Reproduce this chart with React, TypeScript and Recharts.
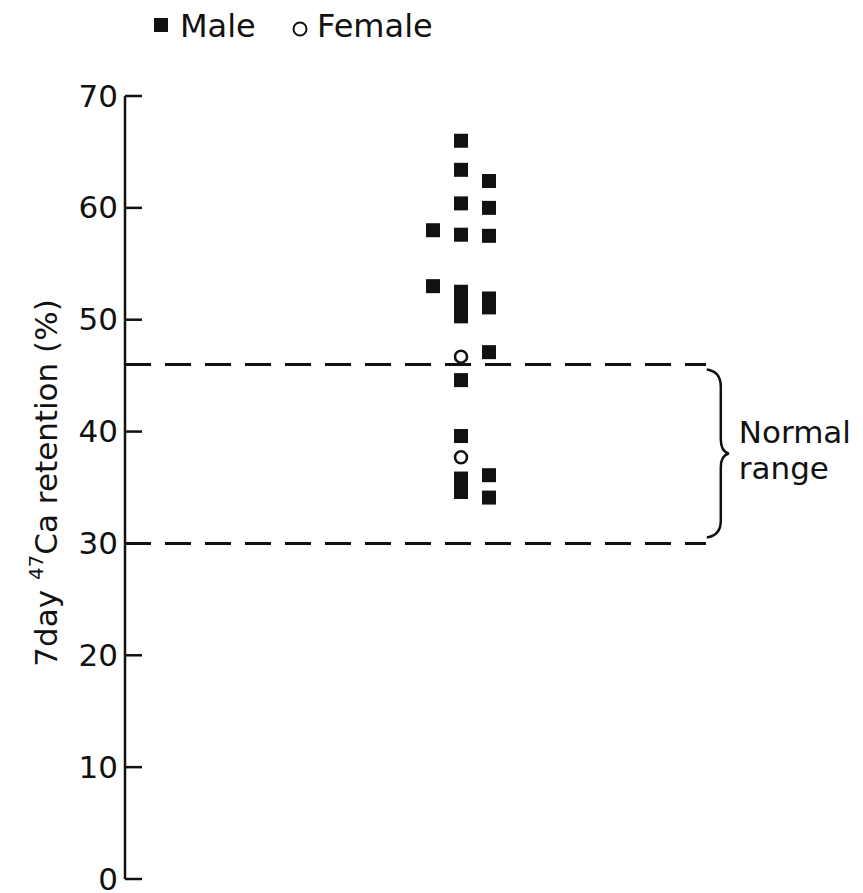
import React from 'react';
import { ScatterChart, Scatter, XAxis, YAxis, ReferenceLine, ReferenceArea, Legend } from 'recharts';

// Column positions (arbitrary horizontal slots for the three dot columns)
const columnPositions = [11, 12, 13];

// Male values (%), by column
const maleLeft = [58.0, 53.0];
const maleMiddle = [66.0, 63.4, 60.4, 57.6, 52.5, 51.8, 51.0, 50.3, 44.6, 39.6, 35.8, 35.2, 34.6];
const maleRight = [62.4, 60.0, 57.5, 51.9, 51.1, 47.1, 36.1, 34.1];

// Female values (%), middle column
const femaleMiddle = [46.7, 37.7];

const yTicks = [0, 10, 20, 30, 40, 50, 60, 70];
const normalRange = [30, 46];
const legendLabels = ['Male', 'Female'];
const rangeLabel = ['Normal', 'range'];

const maleData = [
  ...maleLeft.map((v) => ({ x: columnPositions[0], y: v })),
  ...maleMiddle.map((v) => ({ x: columnPositions[1], y: v })),
  ...maleRight.map((v) => ({ x: columnPositions[2], y: v })),
];
const femaleData = femaleMiddle.map((v) => ({ x: columnPositions[1], y: v }));

const FONT = '"DejaVu Sans", sans-serif';
const INK = '#111';

const SquareShape = (props: any) => {
  const { cx, cy } = props;
  return <rect x={cx - 7} y={cy - 7} width={14} height={14} fill={INK} />;
};

const CircleShape = (props: any) => {
  const { cx, cy } = props;
  return <circle cx={cx} cy={cy} r={6} fill="#fff" stroke={INK} strokeWidth={2.5} />;
};

const YTick = (props: any) => {
  const { x, y, payload } = props;
  return (
    <g>
      <line x1={x} y1={y} x2={x + 17} y2={y} stroke={INK} strokeWidth={2.5} />
      <text x={x - 7} y={y} dy="0.34em" textAnchor="end" fontSize={31} fontFamily={FONT} fill={INK}>
        {payload.value}
      </text>
    </g>
  );
};

const YLabel = (props: any) => {
  const cx = 57;
  const cy = 483;
  return (
    <text
      x={cx}
      y={cy}
      transform={`rotate(-90, ${cx}, ${cy})`}
      textAnchor="middle"
      fontSize={31}
      fontFamily={FONT}
      fill={INK}
    >
      <tspan>7day </tspan>
      <tspan fontSize={20} dy={-14}>47</tspan>
      <tspan dy={14}>Ca retention (%)</tspan>
    </text>
  );
};

const BraceShape = (props: any) => {
  const { x, y, width, height } = props;
  const l = x;
  const r = x + width;
  const top = y + 5;
  const bot = y + height - 6;
  const mid = (top + bot) / 2;
  const v = l + 19;
  const d = `M ${l + 5} ${top} Q ${v} ${top + 2} ${v} ${top + 17} L ${v} ${mid - 14} Q ${v} ${mid - 2} ${r - 1} ${mid} Q ${v} ${mid + 2} ${v} ${mid + 14} L ${v} ${bot - 17} Q ${v} ${bot - 2} ${l + 5} ${bot}`;
  return (
    <g>
      <path d={d} fill="none" stroke={INK} strokeWidth={2.5} />
      <text x={r + 9} y={mid - 10} fontSize={31} fontFamily={FONT} fill={INK}>
        {rangeLabel[0]}
      </text>
      <text x={r + 9} y={mid + 26} fontSize={31} fontFamily={FONT} fill={INK}>
        {rangeLabel[1]}
      </text>
    </g>
  );
};

const LegendContent = () => (
  <svg width={863} height={60} style={{ display: 'block' }}>
    <rect x={154} y={18} width={14} height={14} fill={INK} />
    <text x={180} y={37} fontSize={32} fontFamily={FONT} fill={INK}>
      {legendLabels[0]}
    </text>
    <circle cx={300} cy={29} r={6.5} fill="#fff" stroke={INK} strokeWidth={2} />
    <text x={317} y={37} fontSize={32} fontFamily={FONT} fill={INK}>
      {legendLabels[1]}
    </text>
  </svg>
);

export default function App() {
  return (
    <div style={{ position: 'absolute', left: 0, top: 0, background: '#fff' }}>
      <ScatterChart width={863} height={893} margin={{ top: 96, right: 108, bottom: 14, left: 0 }}>
        <XAxis type="number" dataKey="x" domain={[0, 22.5]} hide />
        <YAxis
          type="number"
          dataKey="y"
          domain={[0, 70]}
          ticks={yTicks}
          width={125}
          tickSize={0}
          tickMargin={0}
          tickLine={false}
          axisLine={{ stroke: INK, strokeWidth: 2.5 }}
          tick={<YTick />}
          label={<YLabel />}
        />
        <Legend
          layout="horizontal"
          verticalAlign="middle"
          align="center"
          wrapperStyle={{ top: 0, left: 0, width: 863, height: 60 }}
          content={<LegendContent />}
        />
        {normalRange.map((v) => (
          <ReferenceLine
            key={v}
            segment={[{ x: 0, y: v }, { x: 20.75, y: v }]}
            stroke={INK}
            strokeWidth={3}
            strokeDasharray="26 14"
          />
        ))}
        <ReferenceArea
          x1={20.6}
          x2={21.6}
          y1={normalRange[0]}
          y2={normalRange[1]}
          shape={<BraceShape />}
        />
        <Scatter name="Male" data={maleData} shape={<SquareShape />} isAnimationActive={false} />
        <Scatter name="Female" data={femaleData} shape={<CircleShape />} isAnimationActive={false} />
      </ScatterChart>
    </div>
  );
}
